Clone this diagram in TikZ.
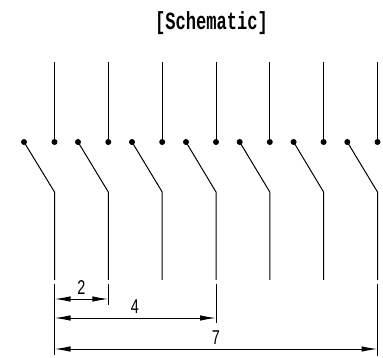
\documentclass[tikz,border=0pt]{standalone}
\usepackage{fontspec}
\setmainfont{Liberation Sans}
\newfontfamily\titlefont{Liberation Mono}
\usetikzlibrary{arrows.meta}
\tikzset{
  wire/.style={line width=1pt,black},
  dimline/.style={line width=1pt,black},
  contact/.style={circle,fill=black,inner sep=0pt,minimum size=6pt},
  dimarrow/.style={dimline,{Latex[length=16pt,width=5.5pt]}-{Latex[length=16pt,width=5.5pt]}},
  dimlabel/.style={font=\fontsize{20}{20}\selectfont,inner sep=0pt,xscale=0.72},
  titlelabel/.style={font=\titlefont\bfseries\fontsize{19}{19}\selectfont,inner sep=0pt,yscale=1.3,xscale=0.9}
}
\begin{document}
\begin{tikzpicture}[x=1pt,y=-1pt]
\useasboundingbox (0,0) rectangle (383,358);
\node[titlelabel] (title) at (211.5,23) {[Schematic]};
\foreach \i/\xp/\xf in {1/24/54.5,2/78/108.3,3/132/162.2,4/186/216,5/239.7/269.8,6/293.6/323.6,7/347.3/377.5}{
  \coordinate (top\i) at (\xf,62);
  \node[contact] (fix\i) at (\xf,142) {};
  \node[contact] (pole\i) at (\xp,142) {};
  \coordinate (elbow\i) at (\xf,192);
  \coordinate (end\i) at (\xf,280);
  \draw[wire] (top\i) -- (fix\i.center);
  \draw[wire] (pole\i.center) -- (elbow\i) -- (end\i);
}
% extension lines
\coordinate (ea1) at (54.5,284); \coordinate (eb1) at (54.5,355);
\coordinate (ea2) at (108.3,284); \coordinate (eb2) at (108.3,305);
\coordinate (ea4) at (216,284); \coordinate (eb4) at (216,323);
\coordinate (ea7) at (377.5,284); \coordinate (eb7) at (377.5,356);
\foreach \k in {1,2,4,7}{\draw[dimline] (ea\k) -- (eb\k);}
% dimension arrows
\coordinate (d2a) at (54.5,299); \coordinate (d2b) at (108.3,299);
\coordinate (d4a) at (54.5,318); \coordinate (d4b) at (216,318);
\coordinate (d7a) at (54.5,349); \coordinate (d7b) at (377.5,349);
\draw[dimarrow] (d2a) -- (d2b);
\draw[dimarrow] (d4a) -- (d4b);
\draw[dimarrow] (d7a) -- (d7b);
\node[dimlabel] (l2) at (81.5,288) {2};
\node[dimlabel] (l4) at (135,306.5) {4};
\node[dimlabel] (l7) at (216,337.5) {7};
\end{tikzpicture}
\end{document}
